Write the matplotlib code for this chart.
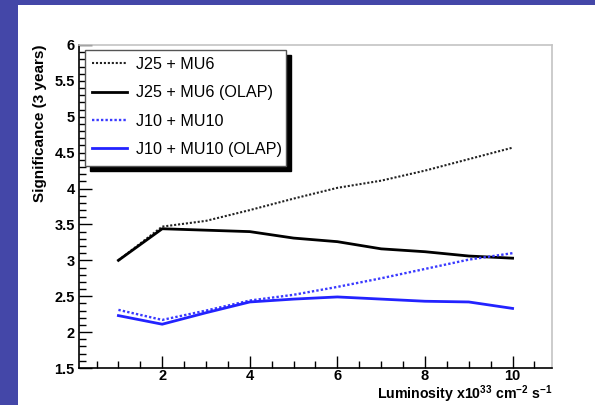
import matplotlib
matplotlib.use("Agg")
import matplotlib.pyplot as plt
from matplotlib.patches import Rectangle
from matplotlib.ticker import MultipleLocator

plt.rcParams["mathtext.default"] = "regular"

# Luminosity points (x10^33 cm^-2 s^-1)
luminosity = [1, 2, 3, 4, 5, 6, 7, 8, 9, 10]

# Significance after 3 years for each trigger combination
j25_mu6 = [3.00, 3.47, 3.55, 3.70, 3.86, 4.01, 4.11, 4.25, 4.41, 4.57]
j25_mu6_olap = [3.00, 3.44, 3.42, 3.40, 3.31, 3.26, 3.16, 3.12, 3.06, 3.03]
j10_mu10 = [2.31, 2.17, 2.30, 2.44, 2.52, 2.63, 2.75, 2.88, 3.01, 3.10]
j10_mu10_olap = [2.23, 2.11, 2.27, 2.42, 2.46, 2.49, 2.46, 2.43, 2.42, 2.33]

labels = ["J25 + MU6", "J25 + MU6 (OLAP)", "J10 + MU10", "J10 + MU10 (OLAP)"]

W, H = 595, 405
fig = plt.figure(figsize=(W / 100, H / 100), dpi=100)
fig.patch.set_facecolor("#4447a8")

# white slide panel
fig.patches.append(Rectangle((18 / W, 0), 1 - 18 / W, 1 - 5 / H,
                             transform=fig.transFigure, facecolor="white",
                             edgecolor="none", zorder=-10))

ax = fig.add_axes([79 / W, 37 / H, 473 / W, 323 / H])
ax.set_facecolor("white")

font = "Liberation Sans"

ax.plot(luminosity, j25_mu6, color="#222222", lw=1.5, ls=(0, (1.0, 0.9)), label=labels[0])
ax.plot(luminosity, j25_mu6_olap, color="black", lw=2.0, label=labels[1])
ax.plot(luminosity, j10_mu10, color="#3a3aff", lw=1.7, ls=(0, (1.0, 0.9)), label=labels[2])
ax.plot(luminosity, j10_mu10_olap, color="#2323ff", lw=2.0, label=labels[3])

ax.set_xlim(0.1, 10.9)
ax.set_ylim(1.5, 6.0)

ax.xaxis.set_major_locator(MultipleLocator(2))
ax.xaxis.set_minor_locator(MultipleLocator(0.5))
ax.yaxis.set_major_locator(MultipleLocator(0.5))
ax.yaxis.set_minor_locator(MultipleLocator(0.1))

ax.tick_params(which="both", direction="in", top=False, right=False, color="black")
ax.tick_params(which="major", length=9, width=1)
ax.tick_params(which="minor", length=5, width=1)
ax.tick_params(axis="x", which="major", pad=1)
ax.tick_params(axis="y", which="major", pad=3)

ax.set_xticks([2, 4, 6, 8, 10])
ax.set_xticklabels(["2", "4", "6", "8", "10"])
ytick_vals = [1.5, 2, 2.5, 3, 3.5, 4, 4.5, 5, 5.5, 6]
ax.set_yticks(ytick_vals)
ax.set_yticklabels([f"{v:g}" for v in ytick_vals])
for lab in ax.get_xticklabels() + ax.get_yticklabels():
    lab.set_fontfamily(font)
    lab.set_fontweight("bold")
    lab.set_fontsize(10.5)

for side in ("left", "bottom"):
    ax.spines[side].set_color("black")
    ax.spines[side].set_linewidth(1.2)
for side in ("top", "right"):
    ax.spines[side].set_color("#c4c4c4")
    ax.spines[side].set_linewidth(1.2)

ax.set_xlabel(r"Luminosity x10$^{33}$ cm$^{-2}$ s$^{-1}$", fontfamily=font,
              fontweight="bold", fontsize=10.2, ha="right", va="baseline")
ax.xaxis.set_label_coords(1.0, (368 - 399) / 323)
ax.set_ylabel("Significance (3 years)", fontfamily=font, fontweight="bold",
              fontsize=11, ha="right", va="center")
ax.yaxis.set_label_coords((40 - 79) / 473, 1.0)

# legend box with a hard drop shadow
bx0, by0 = (85 - 79) / 473, (368 - 166) / 323
bw, bh = (286 - 85) / 473, (166 - 50) / 323
dx, dy = 5 / 473, 5 / 323
ax.add_patch(Rectangle((bx0 + dx, by0 - dy), bw, bh, transform=ax.transAxes,
                       facecolor="black", edgecolor="black", zorder=5))
ax.add_patch(Rectangle((bx0, by0), bw, bh, transform=ax.transAxes,
                       facecolor="white", edgecolor="#555555", lw=1.0, zorder=6))

leg = ax.legend(loc="upper left", bbox_to_anchor=((92 - 79) / 473, (368 - 57) / 323),
                frameon=False, prop={"family": font, "size": 11.6},
                handlelength=2.2, handletextpad=0.5, labelspacing=0.83,
                borderaxespad=0, borderpad=0)
leg.set_zorder(7)

fig.savefig("out.png", dpi=100, facecolor=fig.get_facecolor())
